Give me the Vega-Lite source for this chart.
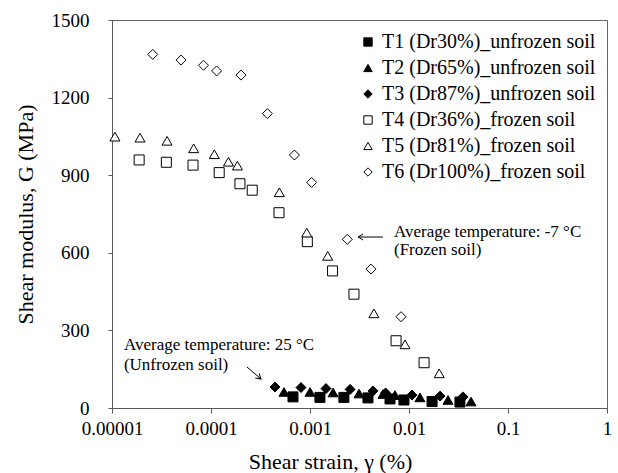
{
  "$schema": "https://vega.github.io/schema/vega-lite/v6.json",
  "width": 495,
  "height": 388,
  "autosize": {"type": "none"},
  "padding": {"left": 112, "top": 20, "right": 11, "bottom": 65},
  "background": "white",
  "config": {"font": "Liberation Serif", "view": {"stroke": "#666", "strokeWidth": 1}},
  "datasets": {
    "pts": [
      {"s": "T1 (Dr30%)_unfrozen soil", "x": 0.000673, "G": 43},
      {"s": "T1 (Dr30%)_unfrozen soil", "x": 0.00126, "G": 41},
      {"s": "T1 (Dr30%)_unfrozen soil", "x": 0.0022, "G": 41},
      {"s": "T1 (Dr30%)_unfrozen soil", "x": 0.00385, "G": 39},
      {"s": "T1 (Dr30%)_unfrozen soil", "x": 0.00643, "G": 35},
      {"s": "T1 (Dr30%)_unfrozen soil", "x": 0.00889, "G": 31},
      {"s": "T1 (Dr30%)_unfrozen soil", "x": 0.0171, "G": 25},
      {"s": "T1 (Dr30%)_unfrozen soil", "x": 0.0327, "G": 23},
      {"s": "T2 (Dr65%)_unfrozen soil", "x": 0.000546, "G": 62},
      {"s": "T2 (Dr65%)_unfrozen soil", "x": 0.001, "G": 62},
      {"s": "T2 (Dr65%)_unfrozen soil", "x": 0.00171, "G": 60},
      {"s": "T2 (Dr65%)_unfrozen soil", "x": 0.00313, "G": 56},
      {"s": "T2 (Dr65%)_unfrozen soil", "x": 0.00546, "G": 54},
      {"s": "T2 (Dr65%)_unfrozen soil", "x": 0.00722, "G": 50},
      {"s": "T2 (Dr65%)_unfrozen soil", "x": 0.0129, "G": 41},
      {"s": "T2 (Dr65%)_unfrozen soil", "x": 0.0248, "G": 31},
      {"s": "T2 (Dr65%)_unfrozen soil", "x": 0.0423, "G": 25},
      {"s": "T3 (Dr87%)_unfrozen soil", "x": 0.000443, "G": 81},
      {"s": "T3 (Dr87%)_unfrozen soil", "x": 0.000811, "G": 79},
      {"s": "T3 (Dr87%)_unfrozen soil", "x": 0.00145, "G": 75},
      {"s": "T3 (Dr87%)_unfrozen soil", "x": 0.00254, "G": 72},
      {"s": "T3 (Dr87%)_unfrozen soil", "x": 0.00433, "G": 66},
      {"s": "T3 (Dr87%)_unfrozen soil", "x": 0.0058, "G": 58},
      {"s": "T3 (Dr87%)_unfrozen soil", "x": 0.0107, "G": 50},
      {"s": "T3 (Dr87%)_unfrozen soil", "x": 0.0206, "G": 46},
      {"s": "T3 (Dr87%)_unfrozen soil", "x": 0.0351, "G": 43},
      {"s": "T4 (Dr36%)_frozen soil", "x": 0.0000188, "G": 959},
      {"s": "T4 (Dr36%)_frozen soil", "x": 0.0000354, "G": 950},
      {"s": "T4 (Dr36%)_frozen soil", "x": 0.0000658, "G": 939},
      {"s": "T4 (Dr36%)_frozen soil", "x": 0.000121, "G": 910},
      {"s": "T4 (Dr36%)_frozen soil", "x": 0.000196, "G": 867},
      {"s": "T4 (Dr36%)_frozen soil", "x": 0.000261, "G": 842},
      {"s": "T4 (Dr36%)_frozen soil", "x": 0.000486, "G": 755},
      {"s": "T4 (Dr36%)_frozen soil", "x": 0.00094, "G": 643},
      {"s": "T4 (Dr36%)_frozen soil", "x": 0.00169, "G": 530},
      {"s": "T4 (Dr36%)_frozen soil", "x": 0.00278, "G": 440},
      {"s": "T4 (Dr36%)_frozen soil", "x": 0.0074, "G": 260},
      {"s": "T4 (Dr36%)_frozen soil", "x": 0.0142, "G": 175},
      {"s": "T5 (Dr81%)_frozen soil", "x": 0.0000107, "G": 1049},
      {"s": "T5 (Dr81%)_frozen soil", "x": 0.0000192, "G": 1045},
      {"s": "T5 (Dr81%)_frozen soil", "x": 0.000036, "G": 1033},
      {"s": "T5 (Dr81%)_frozen soil", "x": 0.0000668, "G": 1004},
      {"s": "T5 (Dr81%)_frozen soil", "x": 0.000108, "G": 981},
      {"s": "T5 (Dr81%)_frozen soil", "x": 0.00015, "G": 952},
      {"s": "T5 (Dr81%)_frozen soil", "x": 0.000185, "G": 937},
      {"s": "T5 (Dr81%)_frozen soil", "x": 0.00049, "G": 834},
      {"s": "T5 (Dr81%)_frozen soil", "x": 0.000927, "G": 678},
      {"s": "T5 (Dr81%)_frozen soil", "x": 0.00151, "G": 588},
      {"s": "T5 (Dr81%)_frozen soil", "x": 0.00442, "G": 366},
      {"s": "T5 (Dr81%)_frozen soil", "x": 0.00912, "G": 246},
      {"s": "T5 (Dr81%)_frozen soil", "x": 0.0202, "G": 134},
      {"s": "T6 (Dr100%)_frozen soil", "x": 0.0000258, "G": 1367},
      {"s": "T6 (Dr100%)_frozen soil", "x": 0.0000498, "G": 1345},
      {"s": "T6 (Dr100%)_frozen soil", "x": 0.000084, "G": 1325},
      {"s": "T6 (Dr100%)_frozen soil", "x": 0.000114, "G": 1303},
      {"s": "T6 (Dr100%)_frozen soil", "x": 0.000201, "G": 1287},
      {"s": "T6 (Dr100%)_frozen soil", "x": 0.000371, "G": 1138},
      {"s": "T6 (Dr100%)_frozen soil", "x": 0.000696, "G": 978},
      {"s": "T6 (Dr100%)_frozen soil", "x": 0.00104, "G": 872},
      {"s": "T6 (Dr100%)_frozen soil", "x": 0.00238, "G": 652},
      {"s": "T6 (Dr100%)_frozen soil", "x": 0.00413, "G": 537},
      {"s": "T6 (Dr100%)_frozen soil", "x": 0.0083, "G": 353}
    ],
    "notes": [
      {"x": 0.00705, "G": 682, "t": "Average temperature: -7 °C"},
      {"x": 0.00705, "G": 611, "t": "(Frozen soil)"},
      {"x": 0.0000132, "G": 244, "t": "Average temperature: 25 °C"},
      {"x": 0.0000132, "G": 166, "t": "(Unfrozen soil)"}
    ],
    "shafts": [
      {"x": 0.00546, "G": 661, "x2": 0.00306, "G2": 661},
      {"x": 0.000231, "G": 158.5, "x2": 0.00032, "G2": 112}
    ]
  },
  "layer": [
    {
      "data": {"name": "pts"},
      "mark": {"type": "point", "filled": true, "strokeWidth": 1, "size": 100, "opacity": 1},
      "encoding": {
        "x": {
          "field": "x", "type": "quantitative",
          "scale": {"type": "log", "domain": [0.00001, 1]},
          "axis": {
            "orient": "bottom",
            "values": [0.00001, 0.0001, 0.001, 0.01, 0.1, 1],
            "format": "~g", "grid": false, "tickSize": 5, "labelOverlap": false,
            "labelFontSize": 19, "labelPadding": 6, "labelFlush": false, "labelColor": "black",
            "domainColor": "#595959", "tickColor": "#595959",
            "title": "Shear strain, γ (%)", "titleFontSize": 22, "titleFontWeight": "normal", "titleColor": "black",
            "titleX": 218, "titleY": 53, "titleBaseline": "middle"
          }
        },
        "y": {
          "field": "G", "type": "quantitative",
          "scale": {"domain": [0, 1500], "nice": false},
          "axis": {
            "orient": "left",
            "values": [0, 150, 300, 450, 600, 750, 900, 1050, 1200, 1350, 1500],
            "format": "d", "labelOverlap": false,
            "grid": false, "tickSize": 4,
            "labelFontSize": 19, "labelPadding": 19, "labelColor": "black",
            "domainColor": "#595959", "tickColor": "#595959",
            "title": "Shear modulus, G (MPa)", "titleFontSize": 22, "titleFontWeight": "normal", "titleColor": "black",
            "titleX": -87, "titleY": 194, "titleBaseline": "middle"
          }
        },
        "shape": {
          "field": "s", "type": "nominal",
          "scale": {
            "domain": ["T1 (Dr30%)_unfrozen soil", "T2 (Dr65%)_unfrozen soil", "T3 (Dr87%)_unfrozen soil", "T4 (Dr36%)_frozen soil", "T5 (Dr81%)_frozen soil", "T6 (Dr100%)_frozen soil"],
            "range": ["square", "triangle-up", "diamond", "square", "triangle-up", "diamond"]
          },
          "legend": {"title": null, "orient": "none", "legendX": 246, "legendY": 12, "padding": 0, "labelFontSize": 20, "labelFont": "Liberation Serif", "labelColor": "black", "labelLimit": 400, "symbolSize": 70, "symbolStrokeWidth": 1, "rowPadding": 6, "labelOffset": 4}
        },
        "fill": {
          "field": "s", "type": "nominal",
          "scale": {
            "domain": ["T1 (Dr30%)_unfrozen soil", "T2 (Dr65%)_unfrozen soil", "T3 (Dr87%)_unfrozen soil", "T4 (Dr36%)_frozen soil", "T5 (Dr81%)_frozen soil", "T6 (Dr100%)_frozen soil"],
            "range": ["black", "black", "black", "white", "white", "white"]
          },
          "legend": {"title": null, "orient": "none", "legendX": 246, "legendY": 12, "padding": 0, "labelFontSize": 20, "labelFont": "Liberation Serif", "labelColor": "black", "labelLimit": 400, "symbolSize": 70, "symbolStrokeWidth": 1, "rowPadding": 6, "labelOffset": 4}
        },
        "stroke": {
          "field": "s", "type": "nominal",
          "scale": {
            "domain": ["T1 (Dr30%)_unfrozen soil", "T2 (Dr65%)_unfrozen soil", "T3 (Dr87%)_unfrozen soil", "T4 (Dr36%)_frozen soil", "T5 (Dr81%)_frozen soil", "T6 (Dr100%)_frozen soil"],
            "range": ["black", "black", "black", "black", "black", "black"]
          },
          "legend": {"title": null, "orient": "none", "legendX": 246, "legendY": 12, "padding": 0, "labelFontSize": 20, "labelFont": "Liberation Serif", "labelColor": "black", "labelLimit": 400, "symbolSize": 70, "symbolStrokeWidth": 1, "rowPadding": 6, "labelOffset": 4}
        }
      }
    },
    {
      "data": {"name": "notes"},
      "mark": {"type": "text", "align": "left", "baseline": "middle", "fontSize": 17, "font": "Liberation Serif", "color": "black"},
      "encoding": {
        "x": {"field": "x", "type": "quantitative"},
        "y": {"field": "G", "type": "quantitative"},
        "text": {"field": "t"}
      }
    },
    {
      "data": {"name": "shafts"},
      "mark": {"type": "rule", "color": "black", "strokeWidth": 1},
      "encoding": {
        "x": {"field": "x", "type": "quantitative"},
        "y": {"field": "G", "type": "quantitative"},
        "x2": {"field": "x2"},
        "y2": {"field": "G2"}
      }
    },
    {
      "data": {"values": [{"x": 0.00306, "G": 661}]},
      "mark": {"type": "point", "shape": "M1,-0.6L0,0L1,0.6", "filled": false, "stroke": "black", "strokeWidth": 1, "size": 100, "opacity": 1},
      "encoding": {
        "x": {"field": "x", "type": "quantitative"},
        "y": {"field": "G", "type": "quantitative"}
      }
    },
    {
      "data": {"values": [{"x": 0.00032, "G": 112}]},
      "mark": {"type": "point", "shape": "M1,-0.6L0,0L1,0.6", "filled": false, "stroke": "black", "strokeWidth": 1, "size": 100, "opacity": 1, "angle": 220.6},
      "encoding": {
        "x": {"field": "x", "type": "quantitative"},
        "y": {"field": "G", "type": "quantitative"}
      }
    }
  ]
}
